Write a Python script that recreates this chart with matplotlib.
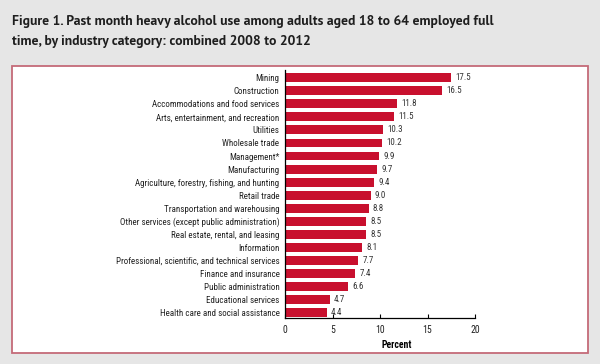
import numpy as np
import matplotlib
matplotlib.use("Agg")
import matplotlib.pyplot as plt
import logging
from matplotlib.patches import Rectangle

logging.getLogger("matplotlib.font_manager").setLevel(logging.ERROR)

industries = [
    "Mining",
    "Construction",
    "Accommodations and food services",
    "Arts, entertainment, and recreation",
    "Utilities",
    "Wholesale trade",
    "Management*",
    "Manufacturing",
    "Agriculture, forestry, fishing, and hunting",
    "Retail trade",
    "Transportation and warehousing",
    "Other services (except public administration)",
    "Real estate, rental, and leasing",
    "Information",
    "Professional, scientific, and technical services",
    "Finance and insurance",
    "Public administration",
    "Educational services",
    "Health care and social assistance",
]
percent = [17.5, 16.5, 11.8, 11.5, 10.3, 10.2, 9.9, 9.7, 9.4, 9.0,
           8.8, 8.5, 8.5, 8.1, 7.7, 7.4, 6.6, 4.7, 4.4]
xticks = [0, 5, 10, 15, 20]

narrow = ["Roboto Condensed", "Archivo Narrow", "PT Sans Narrow", "Arimo", "Roboto", "DejaVu Sans"]
title_font = ["Source Sans Pro", "PT Sans", "Roboto", "DejaVu Sans"]
bar_color = "#c8102e"

fig = plt.figure(figsize=(6, 3.64), dpi=100)
fig.patch.set_facecolor("#e6e6e6")

# white panel with red border
panel = Rectangle((0.02, 0.03), 0.96, 0.789, transform=fig.transFigure,
                  facecolor="white", edgecolor="#c46a78", linewidth=1.3, zorder=-5)
fig.add_artist(panel)

title_lines = ["Figure 1. Past month heavy alcohol use among adults aged 18 to 64 employed full",
               "time, by industry category: combined 2008 to 2012"]
for i, line in enumerate(title_lines):
    fig.text(0.02, 1 - (22 + 20 * i) / 364, line, fontsize=9.8, fontweight="bold",
             color="#1e1e1e", family=title_font, va="center", ha="left")

ax = fig.add_axes([0.475, 0.126, 0.3167, 0.681])
ax.set_facecolor("white")
ax.set_zorder(2)
y = np.arange(len(industries))
ax.barh(y, percent, height=0.68, color=bar_color, zorder=2)
for yi, v in zip(y, percent):
    ax.text(v + 0.45, yi, f"{v:.1f}", va="center", ha="left", fontsize=6.5,
            color="#333333", family=narrow)

ax.set_ylim(18.42, -0.57)
ax.set_xlim(0, 20)
ax.set_yticks(y)
ax.set_yticklabels(industries, fontsize=6.5, family=narrow, color="#222222")
ax.set_xticks(xticks)
ax.set_xticklabels([str(t) for t in xticks], fontsize=7, family=narrow, color="#222222")
ax.tick_params(axis="y", length=0, pad=4)
ax.tick_params(axis="x", direction="in", length=3, width=0.8, pad=5)
for s in ["top", "right"]:
    ax.spines[s].set_visible(False)
ax.spines["left"].set_linewidth(0.9)
ax.spines["bottom"].set_linewidth(0.9)
ax.set_xlabel("Percent", fontsize=7, fontweight="bold", family=narrow, labelpad=2)
ax.xaxis.set_label_coords(0.59, -0.09)

fig.savefig("out.png", dpi=100, facecolor=fig.get_facecolor())
